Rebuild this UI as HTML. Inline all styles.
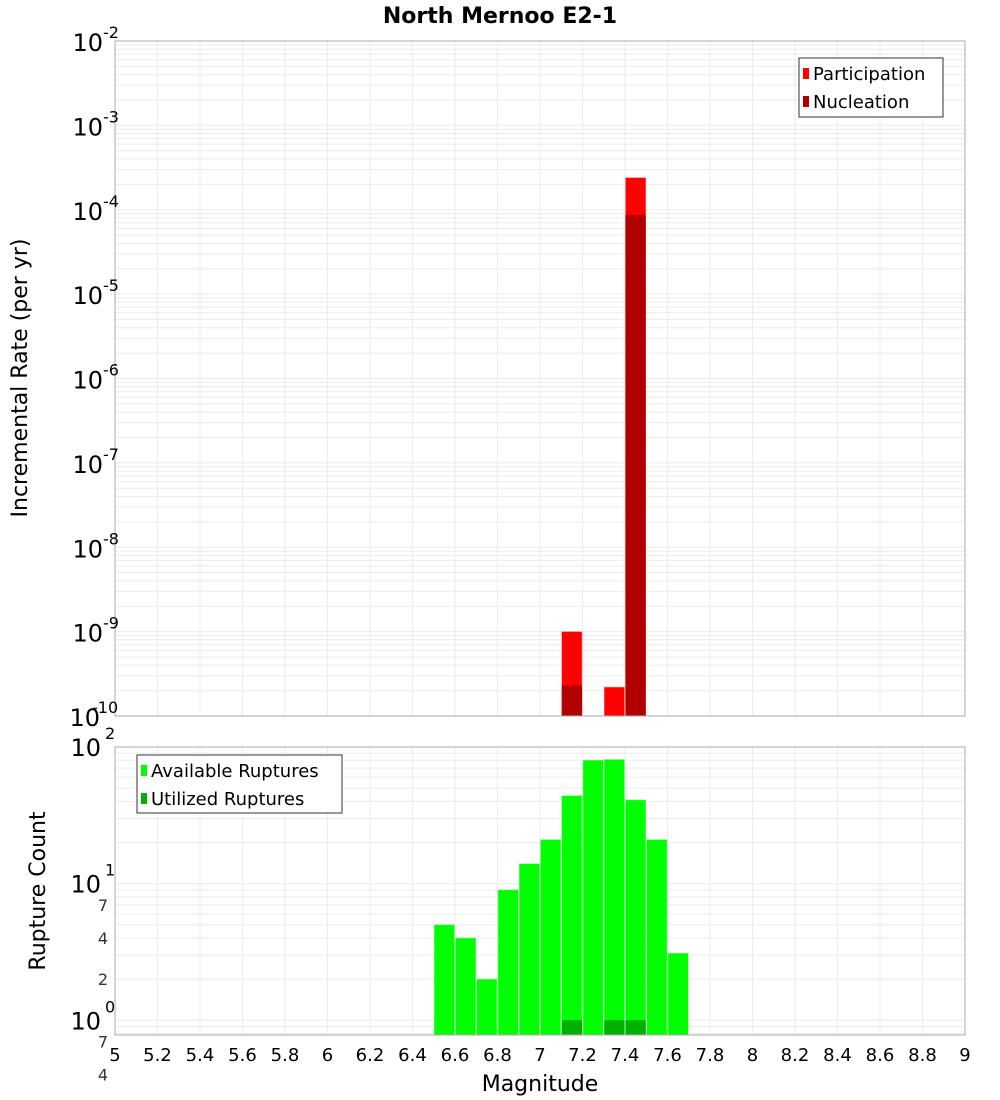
<!DOCTYPE html>
<html><head><meta charset="utf-8"><style>
body{margin:0;background:#fff}
svg{display:block;font-family:"DejaVu Sans","Liberation Sans",sans-serif}
</style></head><body>
<svg id="chart" width="1000" height="1100" xmlns="http://www.w3.org/2000/svg">
<text x="500" y="23" text-anchor="middle" font-size="22" font-weight="bold">North Mernoo E2-1</text>
<g id="topg"></g>
<g id="botg"></g>
<text transform="translate(27,378) rotate(-90)" text-anchor="middle" font-size="22">Incremental Rate (per yr)</text>
<text transform="translate(45,891) rotate(-90)" text-anchor="middle" font-size="22">Rupture Count</text>
<text x="540" y="1091" text-anchor="middle" font-size="22">Magnitude</text>
</svg>
<script>
const binCenters = [6.55,6.65,6.75,6.85,6.95,7.05,7.15,7.25,7.35,7.45,7.55,7.65];
const available = [5,4,2,9,14,21,44,80,81,41,21,3.1];
const utilized = [0,0,0,0,0,0,1,0,1,1,0,0];
const rateBins = [7.15,7.35,7.45];
const participation = [1.0e-9,2.2e-10,2.4e-4];
const nucleation = [2.3e-10,0,8.7e-5];
const xTicks = [5,5.2,5.4,5.6,5.8,6,6.2,6.4,6.6,6.8,7,7.2,7.4,7.6,7.8,8,8.2,8.4,8.6,8.8,9];
const rateDecades = [-2,-3,-4,-5,-6,-7,-8,-9,-10];
const countDecades = [2,1,0];
const countMinor = [[7,"7"],[4,"4"],[2,"2"],[0.7,"7"],[0.4,"4"],[0.2,"2"],[0.08,"8"]];

const NS="http://www.w3.org/2000/svg";
const L=115,R=965;
const xs=m=>L+(m-5)/4*(R-L);
const T1=41,B1=716, yr=v=>T1+(-2-Math.log10(v))/8*(B1-T1);
const T2=747,B2=1035,CMIN=Math.log10(0.78), yc=v=>T2+(2-Math.log10(v))/(2-CMIN)*(B2-T2);
function mk(p,tag,a,txt){const e=document.createElementNS(NS,tag);for(const k in a)e.setAttribute(k,a[k]);if(txt!==undefined)e.textContent=txt;p.appendChild(e);return e;}
const topG=document.getElementById('topg'),botG=document.getElementById('botg');

for(let d=-10;d<-2;d++)for(let k=1;k<10;k++){const y=yr(k*Math.pow(10,d));const l=mk(topG,'line',{x1:L,x2:R,y1:y,y2:y,stroke:'#ebebeb','stroke-width':1});

}
for(const t of xTicks){const l=mk(topG,'line',{x1:xs(t),x2:xs(t),y1:T1,y2:B1,stroke:'#ebebeb'});

}
for(let d=-1;d<2;d++)for(let k=1;k<10;k++){const v=k*Math.pow(10,d);if(v<0.78)continue;const y=yc(v);const l=mk(botG,'line',{x1:L,x2:R,y1:y,y2:y,stroke:'#ebebeb'});

}
for(const t of xTicks){const l=mk(botG,'line',{x1:xs(t),x2:xs(t),y1:T2,y2:B2,stroke:'#ebebeb'});

}

rateBins.forEach((m,i)=>{
  const x0=xs(m-0.05)+0.5,w=xs(m+0.05)-xs(m-0.05)-1;
  if(participation[i]>0){const y=yr(participation[i]);const b=mk(topG,'rect',{x:x0,y:y,width:w,height:B1-y,fill:'#ff0000',stroke:'#ff8080','stroke-width':0.6});
  
  }
  if(nucleation[i]>0){const y=yr(nucleation[i]);const b=mk(topG,'rect',{x:x0,y:y,width:w,height:B1-y,fill:'#b00000'});
  
  }
});
binCenters.forEach((m,i)=>{
  const x0=xs(m-0.05)+0.5,w=xs(m+0.05)-xs(m-0.05)-1;
  const y=yc(available[i]);const b=mk(botG,'rect',{x:x0,y:y,width:w,height:B2-y,fill:'#00ff00',stroke:'#80ff80','stroke-width':0.6});
  
  
  if(utilized[i]>0){const y2=yc(utilized[i]);const u=mk(botG,'rect',{x:x0,y:y2,width:w,height:B2-y2,fill:'#00b000'});
  
  }
});

let f=mk(topG,'rect',{x:L,y:T1,width:R-L,height:B1-T1,fill:'none',stroke:'#aaaaaa'});


f=mk(botG,'rect',{x:L,y:T2,width:R-L,height:B2-T2,fill:'none',stroke:'#aaaaaa'});



for(const d of rateDecades){const y=yr(Math.pow(10,d));
  const off=d===-10?-3:0;
  const t=mk(topG,'text',{x:103+off,y:y+10,'font-size':24,'text-anchor':'end'},'10');
  
  
  const s=mk(topG,'text',{x:103+off-(d===-10?8:0),y:y-3,'font-size':16},String(d));
  
  }
for(const d of countDecades){const y=yc(Math.pow(10,d));
  const t=mk(botG,'text',{x:101,y:y+9,'font-size':24,'text-anchor':'end'},'10');
  
  
  const s=mk(botG,'text',{x:105,y:y-8,'font-size':16},String(d));
  
  }
for(const [v,lab] of countMinor){const y=yc(v);
  const t=mk(botG,'text',{x:108,y:y+6,'font-size':16,'text-anchor':'end',fill:'#333'},lab);
  
  }
for(const t of xTicks){const e=mk(botG,'text',{x:xs(t),y:1061,'font-size':18,'text-anchor':'middle'},String(t));
  
  }

function legend(p,x,y,w,h,items,name){
  const g=mk(p,'g',{});
  
  
  mk(g,'rect',{x:x,y:y,width:w,height:h,fill:'#fff',stroke:'#333'});
  items.forEach((it,i)=>{const cy=y+15+i*28;
    const sw=mk(g,'rect',{x:x+4,y:cy-5,width:6,height:11,fill:it[1]});
    
    
    const tx=mk(g,'text',{x:x+14,y:cy+7,'font-size':18},it[0]);
    
    });
}
legend(topG,799,58,144,59,[['Participation','#ff0000'],['Nucleation','#b00000']],'rate-legend');
legend(botG,137,755,205,58,[['Available Ruptures','#00ff00'],['Utilized Ruptures','#00b000']],'count-legend');
</script>
</body></html>
